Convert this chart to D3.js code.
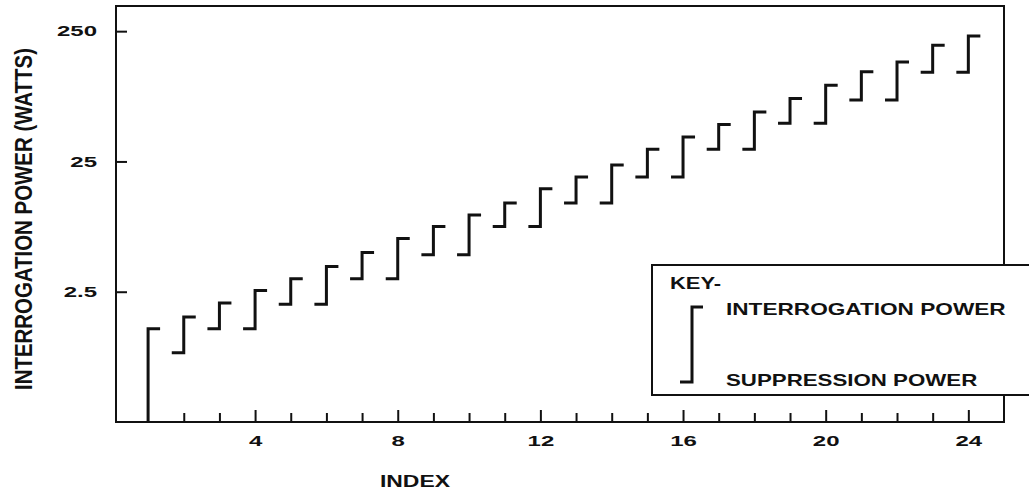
<!DOCTYPE html>
<html>
<head>
<meta charset="utf-8">
<script src="https://cdn.jsdelivr.net/npm/d3@7"></script>
<style>
  body { margin: 0; background: #fff; }
  text { font-family: "Liberation Sans", Arial, sans-serif; font-weight: bold; fill: #111; }
</style>
</head>
<body>
<svg id="chart"></svg>
<script>
var width = 1029;
var height = 490;

// watts
var index = [1, 2, 3, 4, 5, 6, 7, 8, 9, 10, 11, 12, 13, 14, 15, 16, 17, 18, 19, 20, 21, 22, 23, 24];
var interrogation = [1.3, 1.6, 2.05, 2.55, 3.15, 3.9, 5.0, 6.4, 7.9, 9.7, 12, 15.4, 19, 23.5, 31, 38.5, 48, 60, 76, 96, 122, 145, 195, 230];
// first one runs down to the axis
var suppression = [null, 0.85, 1.3, 1.3, 2.0, 2.0, 3.15, 3.15, 4.8, 4.8, 7.9, 7.9, 12, 12, 19, 19, 31, 31, 49, 49, 74, 74, 121, 121];
var yTicks = [2.5, 25, 250];
var xTickLabels = [4, 8, 12, 16, 20, 24];

var svg = d3.select("#chart").attr("width", width).attr("height", height);

var x = d3.scaleLinear().domain([0.1, 25]).range([116, 1004]);
var y = d3.scaleLog().domain([0.25, 390]).range([422, 6]);

// the scan is stretched sideways, so stretch text too
function stretch(sel, f) {
  sel.each(function() {
    var w = this.getComputedTextLength();
    d3.select(this).attr("textLength", w * f).attr("lengthAdjust", "spacingAndGlyphs");
  });
}

// frame
svg.append("rect")
    .attr("x", x.range()[0])
    .attr("y", y.range()[1])
    .attr("width", x.range()[1] - x.range()[0])
    .attr("height", y.range()[0] - y.range()[1])
    .attr("fill", "none")
    .attr("stroke", "#111")
    .attr("stroke-width", 2);

// x axis, small ticks pointing in
var xAxis = d3.axisBottom(x)
    .tickValues(index.slice(1))
    .tickSizeInner(-9)
    .tickSizeOuter(0)
    .tickPadding(13)
    .tickFormat(function(d) { return xTickLabels.indexOf(d) >= 0 ? d : ""; });

var gx = svg.append("g").attr("transform", "translate(0," + y.range()[0] + ")").call(xAxis);
gx.select(".domain").remove();
gx.selectAll("line").attr("stroke", "#111").attr("stroke-width", 2);
gx.selectAll(".tick").filter(function(d) { return xTickLabels.indexOf(d) >= 0; })
    .select("line").attr("y2", -12);
gx.selectAll("text").attr("font-size", 15).attr("fill", "#111").attr("font-family", null);
stretch(gx.selectAll("text"), 1.6);

// y axis
var yAxis = d3.axisLeft(y)
    .tickValues(yTicks)
    .tickSizeInner(-11)
    .tickSizeOuter(0)
    .tickPadding(19)
    .tickFormat(d3.format(""));

var gy = svg.append("g").attr("transform", "translate(" + x.range()[0] + ",0)").call(yAxis);
gy.select(".domain").remove();
gy.selectAll("line").attr("stroke", "#111").attr("stroke-width", 2);
gy.selectAll("text").attr("font-size", 15).attr("fill", "#111").attr("font-family", null);
stretch(gy.selectAll("text"), 1.6);

// the bracket marks: top hook right = interrogation, bottom hook left = suppression
var hook = 12;
svg.append("g").selectAll("path")
    .data(index)
  .enter().append("path")
    .attr("d", function(d, i) {
      var xp = x(d);
      var yt = y(interrogation[i]);
      if (suppression[i] == null) {
        return "M" + xp + "," + y.range()[0] + "V" + yt + "H" + (xp + hook);
      }
      var yb = y(suppression[i]);
      return "M" + (xp - hook) + "," + yb + "H" + xp + "V" + yt + "H" + (xp + hook);
    })
    .attr("fill", "none")
    .attr("stroke", "#111")
    .attr("stroke-width", 3);

// axis titles
var t1 = svg.append("text")
    .attr("x", (x.range()[0] + x.range()[1]) / 2 - 145)
    .attr("y", 487)
    .attr("text-anchor", "middle")
    .attr("font-size", 17)
    .text("INDEX");
stretch(t1, 1.35);

svg.append("text")
    .attr("transform", "translate(32,219) rotate(-90)")
    .attr("text-anchor", "middle")
    .attr("font-size", 23)
    .attr("textLength", 342)
    .attr("lengthAdjust", "spacingAndGlyphs")
    .text("INTERROGATION POWER (WATTS)");

// key box, sits over the right frame edge
var key = svg.append("g");
key.append("rect")
    .attr("x", 652).attr("y", 265)
    .attr("width", 400).attr("height", 130)
    .attr("fill", "#fff")
    .attr("stroke", "#111")
    .attr("stroke-width", 2);
stretch(key.append("text").attr("x", 670).attr("y", 289).attr("font-size", 16).text("KEY-"), 1.37);
key.append("path")
    .attr("d", "M680,382H692V307H703")
    .attr("fill", "none")
    .attr("stroke", "#111")
    .attr("stroke-width", 3);
stretch(key.append("text").attr("x", 726).attr("y", 315).attr("font-size", 16.5).text("INTERROGATION POWER"), 1.37);
stretch(key.append("text").attr("x", 726).attr("y", 386).attr("font-size", 16.5).text("SUPPRESSION POWER"), 1.35);
</script>
</body>
</html>
